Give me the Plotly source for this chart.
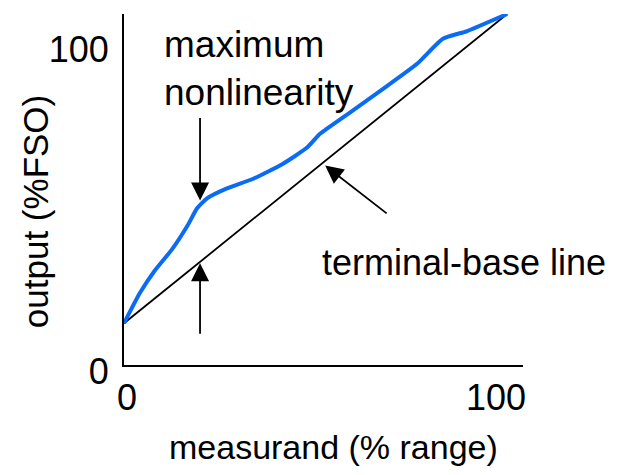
import plotly.graph_objects as go

# Measured response curve (blue) - % range vs % FSO
measurand = [0, 4.3, 8.4, 13.0, 17.3, 19.8, 22.5, 27.9, 35.0, 43.1, 49.6, 53.1, 55.0, 61.2, 70.2, 79.4, 86.4, 93.0, 103.8]
output = [13.0, 22.4, 29.5, 36.0, 43.6, 48.8, 51.9, 55.0, 58.0, 62.7, 67.7, 72.0, 73.6, 78.6, 86.0, 93.8, 101.6, 104.0, 109.3]

# Terminal-base straight line
line_x = [0, 103.8]
line_y = [13.0, 109.3]

tick_vals = [0, 100]
tick_text = ["0", "100"]

FONT = "Liberation Sans, Arial, sans-serif"

fig = go.Figure()
fig.add_trace(go.Scatter(x=line_x, y=line_y, mode="lines",
                         line=dict(color="black", width=1.8), showlegend=False))
fig.add_trace(go.Scatter(x=measurand, y=output, mode="lines",
                         line=dict(color="#0a6cf5", width=4, shape="spline", smoothing=0.5),
                         showlegend=False))

fig.update_layout(
    width=612, height=467,
    margin=dict(l=116, r=97, t=6, b=110, autoexpand=False),
    plot_bgcolor="white", paper_bgcolor="white",
    font=dict(family=FONT, size=34, color="black"),
    xaxis=dict(range=[0, 108.1], showgrid=False, zeroline=False, showline=True,
               linecolor="black", linewidth=2, tickvals=tick_vals, ticktext=tick_text,
               ticks="", ticklabelshift=3, ticklabelstandoff=0, tickfont=dict(size=36)),
    yaxis=dict(range=[0, 109.3], showgrid=False, zeroline=False, showline=True,
               linecolor="black", linewidth=2, tickvals=tick_vals, ticktext=tick_text,
               ticks="", ticklabelshift=6, ticklabelstandoff=6, tickfont=dict(size=36)),
)

ann = []
ann.append(dict(x=20.6, y=51.2, xref="x", yref="y", text="", showarrow=True,
                ax=0, ay=-84, arrowhead=2, arrowsize=2, arrowwidth=1.8, arrowcolor="black"))
ann.append(dict(x=20.6, y=31.7, xref="x", yref="y", text="", showarrow=True,
                ax=0, ay=72, arrowhead=2, arrowsize=2, arrowwidth=1.8, arrowcolor="black"))
ann.append(dict(x=54.5, y=62.1, xref="x", yref="y", text="", showarrow=True,
                ax=63, ay=49, arrowhead=2, arrowsize=2, arrowwidth=1.8, arrowcolor="black"))
ann.append(dict(x=10.4, y=92.3, xref="x", yref="y", text="maximum<br>nonlinearity",
                showarrow=False, xanchor="left", yanchor="middle", align="left",
                font=dict(size=37)))
ann.append(dict(x=53.2, y=32, xref="x", yref="y", text="terminal-base line",
                showarrow=False, xanchor="left", yanchor="middle", align="left",
                font=dict(size=36)))
ann.append(dict(x=0.526, y=-0.234, xref="paper", yref="paper", text="measurand (% range)",
                showarrow=False, xanchor="center", yanchor="middle", font=dict(size=34)))
ann.append(dict(x=-0.22, y=0.436, xref="paper", yref="paper", text="output (%FSO)",
                showarrow=False, xanchor="center", yanchor="middle", textangle=-90,
                font=dict(size=35)))
fig.update_layout(annotations=ann)

fig.write_html("out.html")
